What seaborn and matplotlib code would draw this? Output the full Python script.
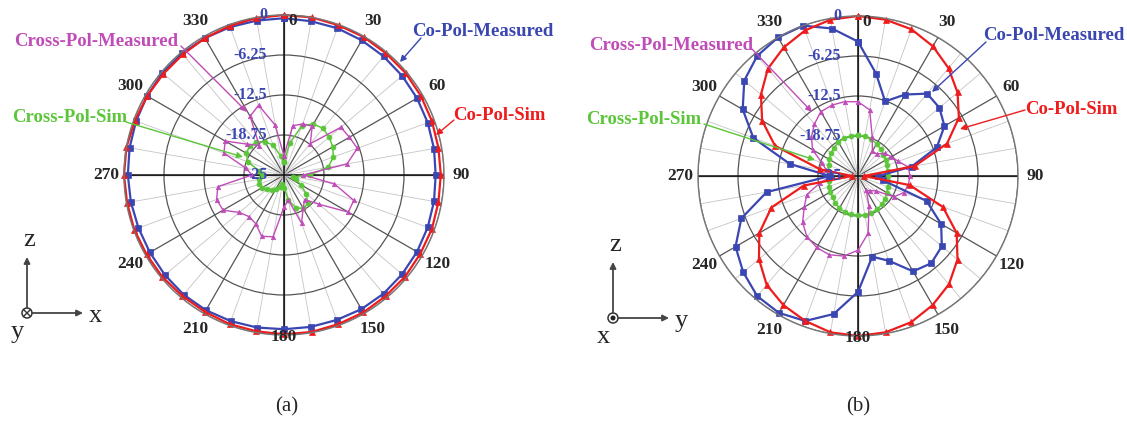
import numpy as np
import matplotlib
matplotlib.use("Agg")
import matplotlib.pyplot as plt
from matplotlib.patches import Circle
import seaborn as sns

sns.set_style("white")
plt.rcParams["font.family"] = ["Liberation Serif", "DejaVu Serif"]

# ---------------- data ----------------
angles_deg = list(range(0, 360, 10))

# (a) x-z plane
a_co_sim = [0, 0, -0.1, -0.1, -0.2, -0.2, -0.3, -0.4, -0.5, -0.5, -0.5, -0.4,
            -0.4, -0.3, -0.3, -0.2, -0.2, -0.1, -0.1, -0.2, -0.2, -0.3, -0.3, -0.2,
            -0.2, -0.1, -0.1, 0, 0, -0.2, -0.3, -0.4, -0.4, -0.3, -0.2, -0.1]
a_co_meas = [-0.5, -0.6, -0.6, -0.7, -0.8, -0.9, -1.0, -1.1, -1.2, -1.3, -1.2, -1.1,
             -1.0, -0.9, -0.8, -0.8, -0.9, -0.9, -0.9, -0.8, -0.7, -0.6, -0.6, -0.7,
             -0.8, -0.8, -0.7, -0.6, -0.5, -0.4, -0.3, -0.2, -0.2, -0.3, -0.4, -0.5]
a_x_sim = [-23, -20, -16.8, -15.8, -15.5, -15.8, -16.2, -16.8, -18, -21, -23.5, -23,
           -22, -20.5, -19.2, -19, -19.5, -21, -23, -23.5, -23, -22.5, -22, -21.5,
           -21, -20.8, -21, -21.5, -21, -19, -18.2, -18, -18.3, -19, -20, -22]
a_x_meas = [-22, -17.2, -16.5, -16.2, -18.6, -13.4, -13.2, -12.8, -15, -22, -17, -13.4,
            -13.4, -17.9, -20, -19, -17, -21, -20, -15.2, -14.8, -16.2, -16.5, -15.9,
            -14, -13.8, -14.5, -20, -19, -15, -14.4, -17.5, -19, -14.4, -13.4, -17.1]

# (b) y-z plane
b_co_sim = [0, -0.2, -0.6, -1.6, -3.0, -4.7, -6.8, -10.2, -16, -24, -16.8, -10.9,
            -7.2, -4.7, -2.9, -1.7, -0.7, -0.2, 0, -0.2, -0.9, -1.7, -2.8, -4.8,
            -7.2, -10.6, -16.4, -24, -19, -11.2, -7.7, -5.2, -3.1, -1.8, -0.8, -0.2]
b_co_meas = [-4.0, -8.75, -12.6, -10.3, -8.2, -8.4, -9.4, -11.9, -16.5, -21.8, -21, -13.6,
             -10, -7.9, -7.2, -7.8, -10.9, -12.2, -6.9, -3.1, -0.9, -0.3, -0.5, -1.6,
             -2.9, -5.6, -10.5, -20.6, -14.2, -7.6, -4.2, -1.8, -0.5, 0, 0, -1.6]
b_x_sim = [-18.6, -18.7, -18.9, -19.2, -19.5, -19.8, -20.0, -20.2, -20.3, -20.3, -20.2, -20.0,
           -19.8, -19.5, -19.2, -19.0, -18.9, -18.8, -18.9, -18.9, -19.0, -19.2, -19.5, -19.8,
           -20.0, -20.2, -20.4, -20.4, -20.3, -20.1, -19.8, -19.5, -19.2, -18.9, -18.7, -18.6]
b_x_meas = [-13.4, -14.5, -18.5, -20.5, -20.5, -19.5, -19, -18.3, -17, -16.9, -17, -17.4,
            -18.5, -21.4, -22, -22.4, -20, -15.9, -13.4, -12.3, -11.9, -12.1, -12.6, -13.7,
            -15.3, -16.5, -19, -21, -20, -19, -16.8, -15.5, -14.4, -13.4, -13.2, -13.2]

r_ticks = [-25, -18.75, -12.5, -6.25, 0]
r_tick_labels = ["-25", "-18.75", "-12.5", "-6.25", "0"]
angle_labels = [str(a) for a in range(0, 360, 30)]

# ---------------- styling ----------------
C_BLUE = "#3a46b2"
C_RED = "#ee1c1c"
C_MAG = "#c04cb8"
C_GREEN = "#5cc63a"
W, H = 1127, 422

fig = plt.figure(figsize=(W / 100, H / 100), dpi=100)


def polar_panel(cx, cy, rad):
    ax = fig.add_axes([(cx - rad) / W, (H - cy - rad) / H, 2 * rad / W, 2 * rad / H],
                      projection="polar")
    ax.set_theta_zero_location("N")
    ax.set_theta_direction(-1)
    ax.set_rlim(-25, 0)
    ax.set_yticks(r_ticks)
    ax.set_yticklabels([])
    ax.set_xticks(np.deg2rad(np.arange(0, 360, 30)))
    ax.set_xticklabels([])
    ax.set_xticks(np.deg2rad(np.arange(0, 360, 10)), minor=True)
    ax.xaxis.grid(True, which="major", color="#555555", lw=0.9)
    ax.xaxis.grid(True, which="minor", color="#c4c4c4", lw=0.6)
    ax.yaxis.grid(True, color="#555555", lw=0.9)
    ax.tick_params(length=0)
    ax.spines["polar"].set_color("#777777")
    ax.spines["polar"].set_linewidth(1.0)
    for t in (0, 90, 180, 270):
        ax.axvline(np.deg2rad(t), color="#111111", lw=1.1, zorder=1.5)
    ax.set_facecolor("none")
    return ax


def closed(vals):
    th = np.deg2rad(np.append(angles_deg, 360))
    return th, np.append(vals, vals[0])


def draw_series(ax, vals, color, marker, ms, lw):
    th, r = closed(vals)
    sns.lineplot(x=th, y=r, ax=ax, sort=False, estimator=None, color=color,
                 marker=marker, markersize=ms, markeredgecolor=color,
                 markeredgewidth=0.5, lw=lw, clip_on=False, legend=False)


def label_panel(ax):
    ax.set_xlabel("")
    ax.set_ylabel("")
    # angle labels around the rim
    for lab in angle_labels:
        a = int(lab)
        if a == 0:
            ax.text(np.deg2rad(3.3), -0.9, lab, ha="center", va="center",
                    fontsize=12.5, fontweight="bold", clip_on=False)
        elif a == 180:
            ax.text(np.pi, 0.3, lab, ha="center", va="center",
                    fontsize=12.5, fontweight="bold", clip_on=False)
        else:
            ax.text(np.deg2rad(a), 2.7, lab, ha="center", va="center",
                    fontsize=12.5, fontweight="bold", clip_on=False)
    # radial level labels along the 0 deg spoke
    for rv, lab in zip(r_ticks, r_tick_labels):
        ax.annotate(lab, xy=(0, rv), xytext=(-12, 0), textcoords="offset points",
                    ha="right", va="center", fontsize=11.5, fontweight="bold",
                    color=C_BLUE, annotation_clip=False, zorder=6)


ax_a = polar_panel(284, 175, 160)
draw_series(ax_a, a_x_sim, C_GREEN, "o", 3.6, 1.1)
draw_series(ax_a, a_x_meas, C_MAG, "^", 3.2, 1.0)
draw_series(ax_a, a_co_meas, C_BLUE, "s", 4.8, 1.6)
draw_series(ax_a, a_co_sim, C_RED, "^", 4.8, 1.6)
label_panel(ax_a)

ax_b = polar_panel(858, 176, 160)
draw_series(ax_b, b_x_sim, C_GREEN, "o", 3.6, 1.1)
draw_series(ax_b, b_x_meas, C_MAG, "^", 3.2, 1.0)
draw_series(ax_b, b_co_meas, C_BLUE, "s", 4.8, 1.6)
draw_series(ax_b, b_co_sim, C_RED, "^", 4.8, 1.6)
label_panel(ax_b)

# ---------------- overlay for callouts, axis icons and captions ----------------
ov = fig.add_axes([0, 0, 1, 1], zorder=10)
ov.set_xlim(0, W)
ov.set_ylim(H, 0)
ov.axis("off")


def callout(text, tx, ty, ha, color, start, tip):
    ov.text(tx, ty, text, ha=ha, va="center", fontsize=13.5, fontweight="bold", color=color)
    ov.annotate("", xy=tip, xytext=start,
                arrowprops=dict(arrowstyle="-|>", color=color, lw=1.0, mutation_scale=9,
                                shrinkA=0, shrinkB=0))


callout("Cross-Pol-Measured", 14, 42, "left", C_MAG, (181, 46), (247, 112))
callout("Cross-Pol-Sim", 12, 118, "left", C_GREEN, (126, 122), (243, 157))
callout("Co-Pol-Measured", 412, 31, "left", C_BLUE, (421, 38), (400, 62))
callout("Co-Pol-Sim", 453, 116, "left", C_RED, (454, 120), (436, 135))

callout("Cross-Pol-Measured", 589, 45, "left", C_MAG, (752, 49), (812, 112))
callout("Cross-Pol-Sim", 586, 120, "left", C_GREEN, (704, 124), (815, 160))
callout("Co-Pol-Measured", 1124, 35, "right", C_BLUE, (986, 42), (932, 92))
callout("Co-Pol-Sim", 1118, 110, "right", C_RED, (1025, 110), (960, 129))


def axis_icon(ox, oy, right_lab, mid_lab, into_page):
    ov.annotate("", xy=(ox, oy - 56), xytext=(ox, oy - 5),
                arrowprops=dict(arrowstyle="-|>", color="#444444", lw=1.3,
                                mutation_scale=9, shrinkA=0, shrinkB=0))
    ov.annotate("", xy=(ox + 56, oy), xytext=(ox + 5, oy),
                arrowprops=dict(arrowstyle="-|>", color="#444444", lw=1.3,
                                mutation_scale=9, shrinkA=0, shrinkB=0))
    ov.add_patch(Circle((ox, oy), 5, fill=False, ec="#333333", lw=1.1))
    if into_page:
        ov.plot([ox - 3.5, ox + 3.5], [oy - 3.5, oy + 3.5], color="#333333", lw=1.0)
        ov.plot([ox - 3.5, ox + 3.5], [oy + 3.5, oy - 3.5], color="#333333", lw=1.0)
    else:
        ov.add_patch(Circle((ox, oy), 1.8, color="#222222"))
    ov.text(ox + 2, oy - 62, "z", ha="center", va="bottom", fontsize=19)
    ov.text(ox + 62, oy + 3, right_lab, ha="left", va="center", fontsize=19)
    ov.text(ox - 10, oy + 8, mid_lab, ha="center", va="top", fontsize=19)


axis_icon(27, 313, "x", "y", True)
axis_icon(613, 318, "y", "x", False)

ov.text(287, 407, "(a)", ha="center", va="center", fontsize=15)
ov.text(858, 407, "(b)", ha="center", va="center", fontsize=15)

fig.savefig("out.png", dpi=100, facecolor="white")
